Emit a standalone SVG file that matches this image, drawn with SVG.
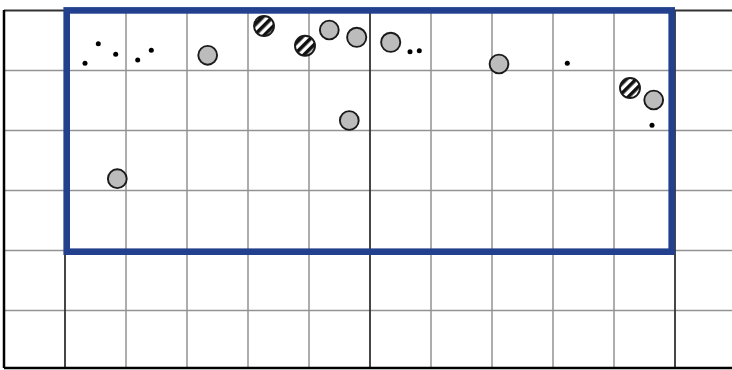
<svg xmlns="http://www.w3.org/2000/svg" width="732" height="370" viewBox="0 0 732 370">
<defs>
<pattern id="hatch" width="7" height="7" patternUnits="userSpaceOnUse" patternTransform="rotate(-45)">
<rect width="7" height="7" fill="#fff"/>
<rect width="7" height="3.6" fill="#111"/>
</pattern>
<style>
.g{stroke:#939393;stroke-width:1.5;fill:none}
.d{stroke:#333;stroke-width:1.8;fill:none}
.k{stroke:#000;stroke-width:2.5;fill:none}
.c{fill:#bcbcbc;stroke:#1a1a1a;stroke-width:1.9}
.h{fill:url(#hatch);stroke:#1a1a1a;stroke-width:1.9}
.p{fill:#000}
</style>
</defs>
<rect width="732" height="370" fill="#fff"/>
<g id="grid">
<path class="g" d="M126 10V368M187 10V368M248 10V368M309 10V368M431 10V368M492 10V368M553 10V368M614 10V368M65 10V250"/>
<path class="g" d="M4 70.5H732M4 130.5H732M4 190.5H732M4 250.5H732M4 310.5H732"/>
<path class="d" d="M4 10.5H732M370 10V368M675 10V368M65 250V368"/>
<path class="k" d="M4 10V368M4 368H732"/>
</g>
<rect id="frame" x="66.7" y="10.4" width="605" height="241.3" fill="none" stroke="#23408e" stroke-width="6.6"/>
<g id="markers">
<circle class="p" cx="85" cy="63.3" r="2.5"/>
<circle class="p" cx="98.3" cy="43.7" r="2.5"/>
<circle class="p" cx="115.7" cy="54.3" r="2.5"/>
<circle class="p" cx="137.7" cy="60" r="2.5"/>
<circle class="p" cx="151.3" cy="50.3" r="2.5"/>
<circle class="p" cx="410" cy="51.7" r="2.5"/>
<circle class="p" cx="419.3" cy="50.7" r="2.5"/>
<circle class="p" cx="567.3" cy="63.3" r="2.5"/>
<circle class="p" cx="652" cy="125.3" r="2.5"/>
<circle class="c" cx="207.7" cy="55.3" r="9.4"/>
<circle class="c" cx="329.3" cy="30" r="9.4"/>
<circle class="c" cx="356.7" cy="37.3" r="9.6"/>
<circle class="c" cx="390.7" cy="42.3" r="9.6"/>
<circle class="c" cx="349.3" cy="120.5" r="9.4"/>
<circle class="c" cx="499" cy="64" r="9.4"/>
<circle class="c" cx="653.7" cy="100" r="9.4"/>
<circle class="c" cx="117.3" cy="178.7" r="9.4"/>
<circle class="h" cx="264" cy="26" r="10"/>
<circle class="h" cx="305" cy="45.7" r="10"/>
<circle class="h" cx="630" cy="88" r="10"/>
</g>
</svg>
